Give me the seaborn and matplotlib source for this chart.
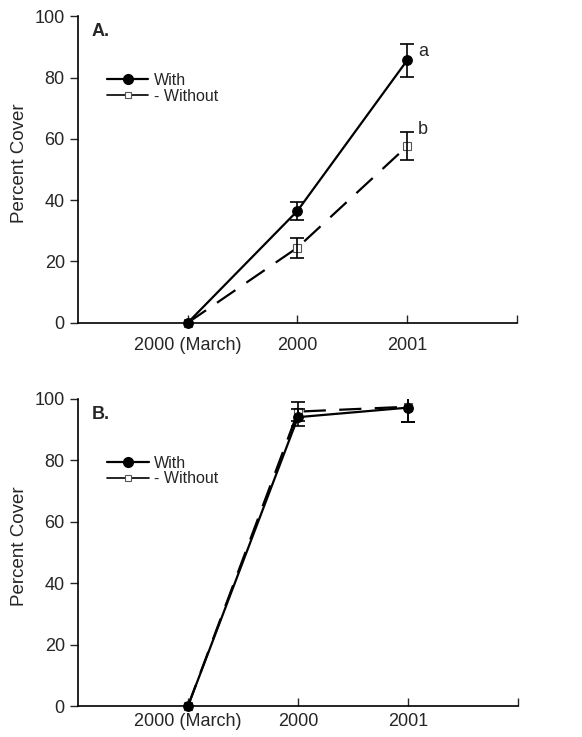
import numpy as np
import pandas as pd
import matplotlib
matplotlib.use("Agg")
import matplotlib.pyplot as plt
from matplotlib.lines import Line2D
import seaborn as sns

periods = ["2000 (March)", "2000", "2001"]

a_with = [0.0, 36.5, 85.6]
a_with_err = [0.0, 3.0, 5.4]
a_without = [0.0, 24.5, 57.6]
a_without_err = [0.0, 3.3, 4.5]

b_with = [0.0, 94.0, 97.1]
b_with_err = [0.0, 2.8, 4.6]
b_without = [0.0, 95.8, 97.4]
b_without_err = [0.0, 3.2, 5.0]

sig_letters = ["a", "b"]

sns.set_theme(style="ticks")
plt.rcParams["font.family"] = ["Liberation Sans", "DejaVu Sans"]
plt.rcParams["font.size"] = 13


def make_frame(with_vals, without_vals):
    x = np.arange(len(periods))
    df1 = pd.DataFrame({"pos": x, "cover": with_vals, "group": "With"})
    df2 = pd.DataFrame({"pos": x, "cover": without_vals, "group": "Without"})
    return pd.concat([df1, df2], ignore_index=True)


def draw_panel(ax, with_vals, with_err, without_vals, without_err, tag,
               letters=None, xpad=10):
    df = make_frame(with_vals, without_vals)
    x = np.arange(len(periods))
    sns.lineplot(data=df[df.group == "Without"], x="pos", y="cover", ax=ax,
                 color="black", lw=1.6, legend=False, zorder=2)
    ax.lines[-1].set_dashes((10, 6))
    ax.plot(x, without_vals, ls="none", marker="s", ms=6, mfc="white",
            mec="#555555", mew=0.8, zorder=2.5, clip_on=False)
    sns.lineplot(data=df[df.group == "With"], x="pos", y="cover", ax=ax,
                 color="black", lw=1.6, marker="o", markersize=7,
                 markeredgecolor="black", legend=False, zorder=3)
    ax.lines[-1].set_clip_on(False)
    ax.errorbar(x[1:], without_vals[1:], yerr=without_err[1:], fmt="none",
                ecolor="black", elinewidth=1.2, capsize=5, capthick=1.2, zorder=5)
    ax.errorbar(x[1:], with_vals[1:], yerr=with_err[1:], fmt="none",
                ecolor="black", elinewidth=1.2, capsize=5, capthick=1.2, zorder=5)

    ax.set_xlim(-1, 3)
    ax.set_ylim(0, 100)
    ax.set_xticks([0, 1, 2, 3])
    ax.set_xticklabels(periods + [""])
    ax.set_yticks([0, 20, 40, 60, 80, 100])
    ax.tick_params(axis="x", direction="in", length=6, width=1, pad=xpad, labelsize=13)
    ax.tick_params(axis="y", direction="out", length=6, width=1, labelsize=13)
    ax.set_xlabel("")
    ax.set_ylabel("Percent Cover", fontsize=13.5)
    ax.yaxis.set_label_coords(-0.113, 0.52)
    for side in ["top", "right"]:
        ax.spines[side].set_visible(False)
    for side in ["left", "bottom"]:
        ax.spines[side].set_linewidth(1.2)
        ax.spines[side].set_color("black")

    ax.text(0.032, 0.95, tag, transform=ax.transAxes, fontsize=13,
            fontweight="bold", va="center", ha="left")

    handles = [
        Line2D([], [], color="black", lw=1.6, marker="o", ms=7),
        Line2D([], [], color="black", lw=1.2, marker="s", ms=5, mfc="white",
               mec="#555555", mew=0.8),
    ]
    ax.legend(handles, ["With", "- Without"], loc="upper left",
              bbox_to_anchor=(0.066, 0.815), frameon=False, fontsize=11.5,
              handlelength=2.6, handletextpad=0.35, labelspacing=0.05,
              borderaxespad=0, borderpad=0)

    if letters:
        ax.text(2.1, with_vals[2] + 3, letters[0], fontsize=13, ha="left", va="center")
        ax.text(2.1, without_vals[2] + 5.5, letters[1], fontsize=13, ha="left", va="center")


fig = plt.figure(figsize=(5.82, 7.37), dpi=100)
ax_a = fig.add_axes([0.134, 0.562, 0.754, 0.416])
ax_b = fig.add_axes([0.134, 0.042, 0.756, 0.417])

draw_panel(ax_a, a_with, a_with_err, a_without, a_without_err, "A.", sig_letters)
draw_panel(ax_b, b_with, b_with_err, b_without, b_without_err, "B.", xpad=5)

fig.savefig("out.png", dpi=100)
